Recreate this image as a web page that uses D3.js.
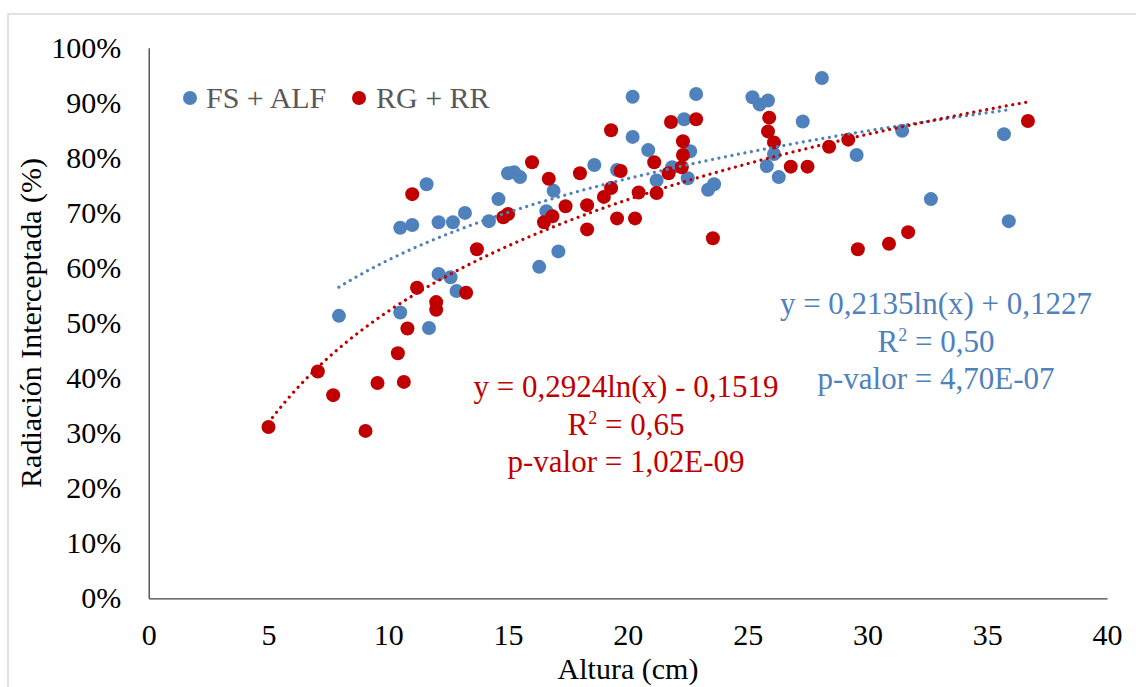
<!DOCTYPE html>
<html>
<head>
<meta charset="utf-8">
<script src="https://cdn.jsdelivr.net/npm/d3@7"></script>
<style>
  html, body { margin: 0; padding: 0; background: #fff; }
  svg { display: block; font-family: "Liberation Serif", "Times New Roman", serif; }
</style>
</head>
<body>
<svg id="chart" width="1136" height="687"></svg>
<script>
// ---- Data ----
const seriesNames = ["FS + ALF", "RG + RR"];
const fsAlfX = [7.94, 10.5, 10.5, 11.0, 11.6, 11.7, 12.1, 12.7, 12.1, 12.6, 12.85, 13.2, 14.2, 14.6, 15.0, 15.25, 15.5, 16.6, 16.9, 16.3, 17.1, 18.6, 19.55, 20.2, 20.2, 20.85, 21.2, 21.85, 22.35, 22.85, 22.6, 22.5, 23.35, 23.6, 25.2, 25.5, 25.85, 25.8, 26.1, 26.3, 28.1, 27.3, 29.55, 31.45, 35.7, 32.65, 35.9];
const fsAlfY = [0.513, 0.519, 0.673, 0.678, 0.752, 0.491, 0.683, 0.683, 0.589, 0.583, 0.558, 0.700, 0.685, 0.725, 0.772, 0.774, 0.765, 0.703, 0.740, 0.602, 0.630, 0.787, 0.778, 0.911, 0.838, 0.814, 0.759, 0.783, 0.870, 0.916, 0.812, 0.763, 0.742, 0.752, 0.910, 0.897, 0.904, 0.785, 0.807, 0.765, 0.945, 0.866, 0.805, 0.849, 0.843, 0.725, 0.685];
const rgRrX = [5.0, 7.06, 7.7, 9.05, 9.55, 10.4, 10.65, 10.8, 11.0, 11.2, 12.0, 12.0, 13.25, 13.7, 14.8, 15.0, 16.0, 16.7, 16.5, 16.85, 17.4, 18.0, 18.3, 18.3, 19.0, 19.3, 19.3, 19.55, 19.7, 20.3, 20.45, 21.1, 21.2, 21.7, 21.8, 22.25, 22.3, 22.3, 22.85, 23.55, 25.9, 25.85, 26.1, 26.8, 27.5, 28.4, 29.2, 29.6, 30.9, 31.7, 36.7];
const rgRrY = [0.311, 0.412, 0.369, 0.304, 0.391, 0.445, 0.393, 0.490, 0.734, 0.564, 0.538, 0.524, 0.555, 0.634, 0.692, 0.698, 0.792, 0.762, 0.683, 0.694, 0.712, 0.772, 0.714, 0.670, 0.729, 0.745, 0.850, 0.690, 0.776, 0.690, 0.737, 0.792, 0.736, 0.772, 0.865, 0.783, 0.805, 0.830, 0.870, 0.654, 0.873, 0.848, 0.828, 0.784, 0.784, 0.820, 0.833, 0.634, 0.644, 0.665, 0.867];
// Fitted logarithmic trendlines (coefficients as printed on the chart)
const fsAlfFit = [0.2135, 0.1227];
const rgRrFit = [0.2924, -0.1519];
const fsAlfLabel = ["y = 0,2135ln(x) + 0,1227", "0,50", "p-valor = 4,70E-07"];
const rgRrLabel = ["y = 0,2924ln(x) - 0,1519", "0,65", "p-valor = 1,02E-09"];
const xTicks = [0, 5, 10, 15, 20, 25, 30, 35, 40];
const yTicks = [0, 0.1, 0.2, 0.3, 0.4, 0.5, 0.6, 0.7, 0.8, 0.9, 1.0];
const colors = ["#4F81BD", "#C00000"];

// ---- Layout ----
const svg = d3.select("#chart");
const plotL = 148.7, plotR = 1107, plotT = 47.7, plotB = 598.3;
const x = d3.scaleLinear().domain([0, 40]).range([plotL, plotR]);
const y = d3.scaleLinear().domain([0, 1]).range([plotB, plotT]);

// outer chart border
svg.append("rect").attr("x", 8).attr("y", 14).attr("width", 1140).attr("height", 700)
  .attr("fill", "none").attr("stroke", "#D9D9D9").attr("stroke-width", 1.5);

// axes
const xAxis = svg.append("g").attr("transform", `translate(0,${plotB})`)
  .call(d3.axisBottom(x).tickValues(xTicks).tickSize(0).tickPadding(25).tickFormat(d3.format("d")));
const yAxis = svg.append("g").attr("transform", `translate(${plotL},0)`)
  .call(d3.axisLeft(y).tickValues(yTicks).tickSize(0).tickPadding(27.5).tickFormat(d3.format(".0%")));
[xAxis, yAxis].forEach(g => {
  g.select(".domain").attr("stroke", "#404040").attr("stroke-width", 1.3);
  g.selectAll("text").attr("font-family", "Liberation Serif").attr("font-size", 30).attr("fill", "#000");
});

// axis titles
svg.append("text").attr("x", 628).attr("y", 679).attr("text-anchor", "middle")
  .attr("font-size", 30).attr("fill", "#000").text("Altura (cm)");
svg.append("text").attr("transform", `translate(41,${(plotT + plotB) / 2}) rotate(-90)`)
  .attr("text-anchor", "middle").attr("font-size", 30).attr("fill", "#000")
  .text("Radiación Interceptada (%)");

// markers
const fsData = fsAlfX.map((v, i) => [v, fsAlfY[i]]);
const rgData = rgRrX.map((v, i) => [v, rgRrY[i]]);
[[fsData, colors[0]], [rgData, colors[1]]].forEach(([data, c]) => {
  svg.append("g").selectAll("circle").data(data).join("circle")
    .attr("cx", d => x(d[0])).attr("cy", d => y(d[1])).attr("r", 7)
    .attr("fill", c);
});

// trendlines
const line = d3.line().x(d => x(d[0])).y(d => y(d[1]));
[[fsAlfX, fsAlfFit, colors[0]], [rgRrX, rgRrFit, colors[1]]].forEach(([xs, fit, c]) => {
  const [x0, x1] = d3.extent(xs);
  const pts = d3.range(0, 201).map(i => {
    const xv = x0 + (x1 - x0) * i / 200;
    return [xv, fit[0] * Math.log(xv) + fit[1]];
  });
  svg.append("path").attr("d", line(pts)).attr("fill", "none").attr("stroke", c)
    .attr("stroke-width", 3.2).attr("stroke-linecap", "round").attr("stroke-dasharray", "0.01 6.6");
});

// equation labels
function eqLabel(cx, y0, lines, c) {
  const g = svg.append("g").attr("fill", c).attr("font-size", 31).attr("text-anchor", "middle");
  g.append("text").attr("x", cx).attr("y", y0).text(lines[0]);
  const r = g.append("text").attr("x", cx).attr("y", y0 + 37.5);
  r.append("tspan").text("R");
  r.append("tspan").attr("font-size", 18).attr("dy", -11).text("2");
  r.append("tspan").attr("dy", 11).text(" = " + lines[1]);
  g.append("text").attr("x", cx).attr("y", y0 + 75).text(lines[2]);
}
eqLabel(936, 314, fsAlfLabel, colors[0]);
eqLabel(626, 397, rgRrLabel, colors[1]);

// legend
const legend = svg.append("g");
[[190, 206], [359, 376]].forEach(([mx, tx], i) => {
  legend.append("circle").attr("cx", mx).attr("cy", 98).attr("r", 7).attr("fill", colors[i]);
  legend.append("text").attr("x", tx).attr("y", 108).attr("font-size", 30).attr("fill", "#595959").text(seriesNames[i]);
});
</script>
</body>
</html>
